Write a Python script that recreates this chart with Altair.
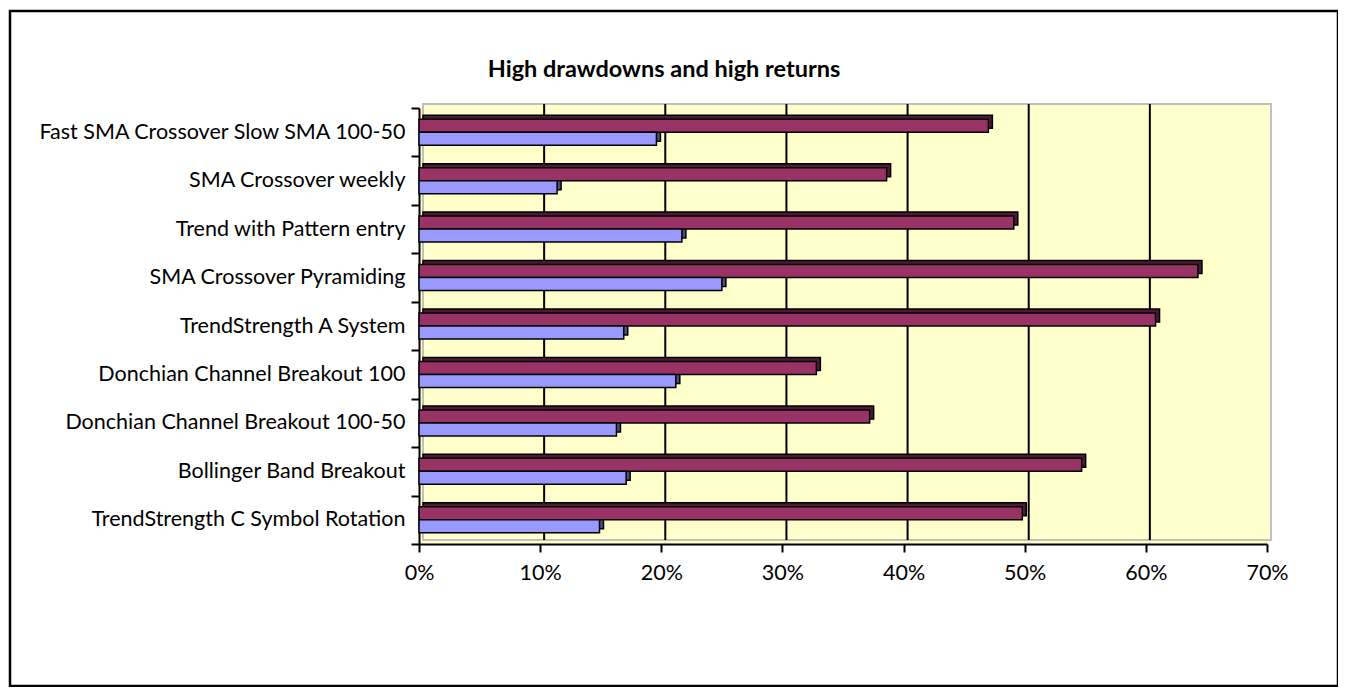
import altair as alt
import pandas as pd

# ---- data (top to bottom) ----
categories = [
    "Fast SMA Crossover Slow SMA 100-50\u00a0\u00a0\u00a0",
    "SMA Crossover weekly",
    "Trend with Pattern entry",
    "SMA Crossover Pyramiding",
    "TrendStrength A System",
    "Donchian Channel Breakout 100",
    "Donchian Channel Breakout 100-50",
    "Bollinger Band Breakout",
    "TrendStrength C Symbol Rotation",
]
returns = [0.470, 0.386, 0.491, 0.643, 0.608, 0.328, 0.372, 0.547, 0.498]
drawdowns = [0.196, 0.114, 0.217, 0.250, 0.169, 0.212, 0.163, 0.171, 0.149]
x_ticks = [0.0, 0.1, 0.2, 0.3, 0.4, 0.5, 0.6, 0.7]
grid_ticks = [0.1, 0.2, 0.3, 0.4, 0.5, 0.6]
title_text = "High drawdowns and high returns"

FONT = "Lato"
W, H = 848, 436
BAR = 13
DEPTH = 4

ret_df = pd.DataFrame({"category": categories, "value": returns})
dd_df = pd.DataFrame({"category": categories, "value": drawdowns})
grid_df = pd.DataFrame({"value": grid_ticks})
one = pd.DataFrame({"a": [0]})

y_axis = alt.Axis(
    title=None,
    offset=0,
    tickBand="extent",
    domainColor="black",
    domainWidth=2,
    tickColor="black",
    tickWidth=2,
    tickSize=8,
    labelPadding=6,
    labelFont=FONT,
    labelFontSize=21.5,
    labelColor="black",
    labelLimit=500,
)
x_axis = alt.Axis(
    title=None,
    offset=0,
    format=".0%",
    values=x_ticks,
    grid=False,
    labelFlush=False,
    domainColor="black",
    domainWidth=2,
    tickColor="black",
    tickWidth=2,
    tickSize=8,
    labelPadding=10,
    labelFont=FONT,
    labelFontSize=21.5,
    labelColor="black",
)
x_scale = alt.Scale(domain=[0, 0.7], nice=False, zero=True)
y_scale = alt.Scale(paddingInner=0, paddingOuter=0)

x_enc = alt.X("value:Q", scale=x_scale, axis=x_axis)
y_enc = alt.Y("category:N", sort=categories, scale=y_scale, axis=y_axis)

# outer chart border
border = alt.Chart(one).mark_rect(
    fill="white", fillOpacity=0, stroke="black", strokeWidth=2.5
).encode(
    x=alt.value(-409), x2=alt.value(919), y=alt.value(-97), y2=alt.value(578)
)

# back wall of the 3D plot
wall = alt.Chart(one).mark_rect(
    fill="#FFFFCC", stroke="#C0C0C0", strokeWidth=2
).encode(
    x=alt.value(DEPTH), x2=alt.value(W + DEPTH), y=alt.value(-DEPTH), y2=alt.value(H - DEPTH)
)

grid = alt.Chart(grid_df).mark_rule(
    color="black", strokeWidth=2, xOffset=DEPTH
).encode(
    x=x_enc,
    y=alt.value(-DEPTH),
    y2=alt.value(H - DEPTH),
)

def bars(df, color, stroke_w, dy, depth=False):
    kw = dict(size=BAR, stroke="black", strokeWidth=stroke_w, fill=color)
    if depth:
        kw.update(xOffset=DEPTH, x2Offset=DEPTH, yOffset=dy - DEPTH)
    else:
        kw.update(yOffset=dy)
    return alt.Chart(df).mark_bar(**kw).encode(x=x_enc, y=y_enc)

blue_depth = bars(dd_df, "#4D4D80", 1.5, 6.5, depth=True)
maroon_depth = bars(ret_df, "#4D1A33", 1.5, -6.5, depth=True)
maroon_front = bars(ret_df, "#993366", 1.5, -6.5)
blue_front = bars(dd_df, "#9999FF", 1.5, 6.5)

title = alt.Chart(one).mark_text(
    text=title_text, font=FONT, fontSize=23.5, fontWeight="bold",
    align="center", baseline="middle", color="black"
).encode(x=alt.value(245), y=alt.value(-38))

chart = alt.layer(
    border, wall, grid, blue_depth, maroon_depth, maroon_front, blue_front, title
).properties(
    width=W,
    height=H,
    autosize=alt.AutoSizeParams(type="none"),
    padding={"left": 411, "top": 100, "right": 71, "bottom": 143},
    background="white",
).configure_view(
    fill="#FFFFCC", stroke=None
)

chart.save("out.html", embed_options={"renderer": "svg", "actions": False})
